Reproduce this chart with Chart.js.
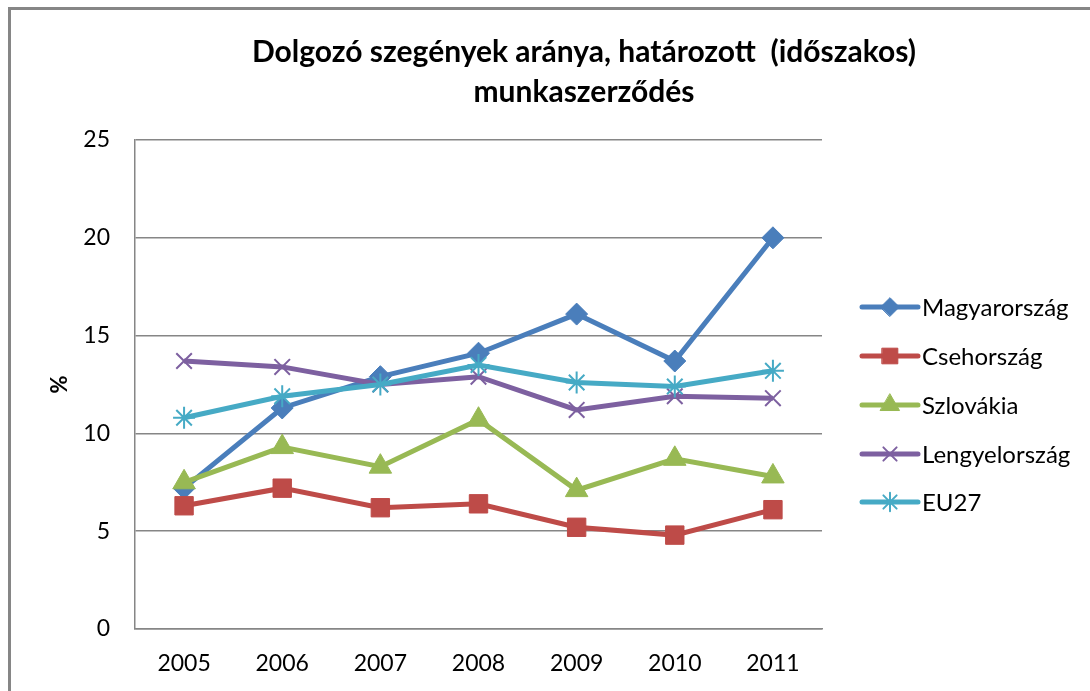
<!DOCTYPE html>
<html>
<head>
<meta charset="utf-8">
<script src="https://cdn.jsdelivr.net/npm/chart.js@4/dist/chart.umd.min.js"></script>
<style>
  body { margin: 0; background: #fff; overflow: hidden; }
  #frame {
    position: absolute; left: 8px; top: 7px;
    width: 1146px; height: 690px;
    border-left: 3px solid #868686; border-top: 3px solid #868686;
  }
</style>
</head>
<body>
<div id="frame"><canvas id="chart"></canvas></div>
<script>
// adatok (leolvasva az ábráról)
const years = ["2005", "2006", "2007", "2008", "2009", "2010", "2011"];
const magyarorszag = [7.2, 11.3, 12.9, 14.1, 16.1, 13.7, 20.0];
const csehorszag = [6.3, 7.2, 6.2, 6.4, 5.2, 4.8, 6.1];
const szlovakia = [7.5, 9.3, 8.3, 10.7, 7.1, 8.7, 7.8];
const lengyelorszag = [13.7, 13.4, 12.5, 12.9, 11.2, 11.9, 11.8];
const eu27 = [10.8, 11.9, 12.5, 13.5, 12.6, 12.4, 13.2];
const yTicks = [0, 5, 10, 15, 20, 25];
const titleLines = ["Dolgozó szegények aránya, határozott  (időszakos)", "munkaszerződés"];

const FONT = "Lato, 'Open Sans', sans-serif";

function series(label, data, color, pointStyle, radius, order, pbw) {
  return {
    label: label,
    data: data,
    borderColor: color,
    backgroundColor: color,
    borderWidth: 5,
    pointStyle: pointStyle,
    pointRadius: radius,
    pointHoverRadius: radius,
    pointBorderWidth: pbw,
    pointBackgroundColor: color,
    pointBorderColor: color,
    tension: 0,
    order: order
  };
}

const datasets = [
  series("Magyarország", magyarorszag, "#4A7EBB", "rectRot", 11, 5, 1),
  series("Csehország", csehorszag, "#BE4B48", "rect", 13, 4, 1),
  series("Szlovákia", szlovakia, "#98B954", "triangle", 13, 3, 1),
  series("Lengyelország", lengyelorszag, "#7D60A0", "crossRot", 11, 2, 2),
  series("EU27", eu27, "#46AAC5", "star", 11, 1, 2)
];

// cím a teljes diagramterület közepén
const titlePlugin = {
  id: "excelTitle",
  afterDraw(chart) {
    const ctx = chart.ctx;
    ctx.save();
    ctx.fillStyle = "#000";
    ctx.font = "bold 30px " + FONT;
    ctx.textAlign = "center";
    ctx.textBaseline = "middle";
    ctx.fillText(titleLines[0], 573, 42);
    ctx.fillText(titleLines[1], 573, 82);
    ctx.restore();
  }
};

// jelmagyarázat: vonal + jelölő, mint az Excelben
const legendPlugin = {
  id: "excelLegend",
  afterDraw(chart) {
    const ctx = chart.ctx;
    const x0 = 851, x1 = 907, tx = 911;
    const ys = [297, 346, 395, 444, 492];
    datasets.forEach((ds, i) => {
      const y = ys[i];
      ctx.save();
      ctx.strokeStyle = ds.borderColor;
      ctx.lineWidth = 5;
      ctx.lineCap = "round";
      ctx.beginPath();
      ctx.moveTo(x0, y);
      ctx.lineTo(x1, y);
      ctx.stroke();
      ctx.fillStyle = ds.pointBackgroundColor;
      ctx.strokeStyle = ds.pointBorderColor;
      ctx.lineWidth = ds.pointBorderWidth;
      Chart.helpers.drawPoint(ctx, {
        pointStyle: ds.pointStyle,
        radius: ds.pointRadius * 0.85,
        rotation: 0,
        borderWidth: ds.pointBorderWidth
      }, (x0 + x1) / 2, y);
      ctx.fillStyle = "#000";
      ctx.font = "24px " + FONT;
      ctx.textBaseline = "middle";
      ctx.textAlign = "left";
      ctx.fillText(ds.label, tx, y + 1);
      ctx.restore();
    });
  }
};

new Chart(document.getElementById("chart"), {
  type: "line",
  data: { labels: years, datasets: datasets },
  options: {
    responsive: true,
    maintainAspectRatio: false,
    animation: false,
    layout: { padding: { top: 130, left: 0, right: 335, bottom: 21 } },
    plugins: {
      legend: { display: false },
      tooltip: { enabled: false },
      title: { display: false }
    },
    scales: {
      x: {
        offset: true,
        grid: { display: false, drawTicks: false },
        border: { display: true, color: "#868686", width: 1.5 },
        ticks: { color: "#000", font: { family: FONT, size: 23 }, padding: 21 },
        afterFit(scale) { scale.height = 50; }
      },
      y: {
        min: 0,
        max: 25,
        afterBuildTicks(scale) { scale.ticks = yTicks.map(v => ({ value: v })); },
        grid: { color: "#868686", lineWidth: 1.5, drawTicks: false },
        border: { display: true, color: "#868686", width: 1.5 },
        ticks: { color: "#000", font: { family: FONT, size: 23 }, padding: 25 },
        title: {
          display: true,
          text: "%",
          color: "#000",
          font: { family: FONT, size: 22, weight: "bold" },
          padding: { top: 36, bottom: 0 }
        },
        afterFit(scale) { scale.width = 124; }
      }
    }
  },
  plugins: [titlePlugin, legendPlugin]
});
</script>
</body>
</html>
